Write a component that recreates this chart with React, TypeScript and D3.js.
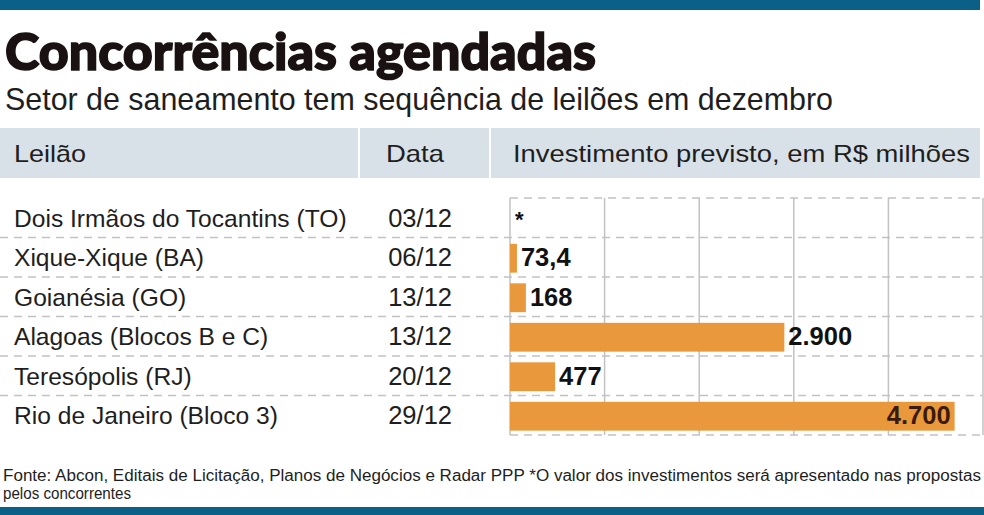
import React from "react";
import * as d3 from "d3";

// Leilões de saneamento previstos para dezembro
const leiloes = [
  "Dois Irmãos do Tocantins (TO)",
  "Xique-Xique (BA)",
  "Goianésia (GO)",
  "Alagoas (Blocos B e C)",
  "Teresópolis (RJ)",
  "Rio de Janeiro (Bloco 3)",
];
const datas = ["03/12", "06/12", "13/12", "13/12", "20/12", "29/12"];
// Investimento previsto em R$ milhões (null = valor ainda não divulgado)
const investimentos: (number | null)[] = [null, 73.4, 168, 2900, 477, 4700];
const ticksX = [0, 1000, 2000, 3000, 4000, 5000];

const titulo = "Concorrências agendadas";
const subtitulo = "Setor de saneamento tem sequência de leilões em dezembro";
const cabecalhos = ["Leilão", "Data", "Investimento previsto, em R$ milhões"];
const notaSemValor = "*";
const fonte1 =
  "Fonte: Abcon, Editais de Licitação, Planos de Negócios e Radar PPP *O valor dos investimentos será apresentado nas propostas";
const fonte2 = "pelos concorrentes";

const W = 984;
const H = 515;
const BLUE = "#0b6088";
const HEAD_BG = "#d9e1e8";
const ORANGE = "#e9993b";
const GRID = "#c2c2c2";
const TEXT = "#1e1e1e";
const FONT = "'Liberation Sans', Arial, sans-serif";

const ptBR = d3.formatLocale({
  decimal: ",",
  thousands: ".",
  grouping: [3],
  currency: ["R$", ""],
});
const fmt = ptBR.format(",");

export default function App() {
  const chartLeft = 510;
  const chartRight = 983;
  const rowsTop = 198;
  const rowsBottom = 435;

  const x = d3.scaleLinear().domain([0, 5000]).range([chartLeft, chartRight]);
  const y = d3
    .scaleBand<number>()
    .domain(leiloes.map((_, i) => i))
    .range([rowsTop, rowsBottom])
    .padding(0);
  const bw = y.bandwidth();
  const barTop = bw * 0.16;
  const barH = bw * 0.73;

  const dash = "8 6";

  return (
    <svg
      width={W}
      height={H}
      viewBox={`0 0 ${W} ${H}`}
      style={{ position: "absolute", left: 0, top: 0, display: "block", background: "#fff" }}
    >
      {/* faixa superior */}
      <rect x={0} y={0} width={980} height={10} fill={BLUE} />

      <text
        x={5}
        y={70}
        fontFamily="Lato, 'DejaVu Sans', sans-serif"
        fontWeight={900}
        fontSize={52}
        fill="#1a1212"
        stroke="#1a1212"
        strokeWidth={1.6}
        textLength={591}
        lengthAdjust="spacingAndGlyphs"
      >
        {titulo}
      </text>
      <text
        x={5}
        y={110}
        fontFamily={FONT}
        fontSize={32}
        fill={TEXT}
        textLength={828}
        lengthAdjust="spacingAndGlyphs"
      >
        {subtitulo}
      </text>

      {/* cabeçalho da tabela */}
      <rect x={0} y={128} width={980} height={50} fill={HEAD_BG} />
      <line x1={359} x2={359} y1={128} y2={178} stroke="#fff" strokeWidth={2} />
      <line x1={490} x2={490} y1={128} y2={178} stroke="#fff" strokeWidth={2} />
      <text x={14} y={162} fontFamily={FONT} fontSize={24} fill={TEXT} textLength={72} lengthAdjust="spacingAndGlyphs">
        {cabecalhos[0]}
      </text>
      <text x={386} y={162} fontFamily={FONT} fontSize={24} fill={TEXT} textLength={58} lengthAdjust="spacingAndGlyphs">
        {cabecalhos[1]}
      </text>
      <text x={513} y={162} fontFamily={FONT} fontSize={24} fill={TEXT} textLength={457} lengthAdjust="spacingAndGlyphs">
        {cabecalhos[2]}
      </text>

      {/* grade do gráfico */}
      {ticksX.map((t) => (
        <line key={`v${t}`} x1={x(t)} x2={x(t)} y1={rowsTop} y2={rowsBottom} stroke={GRID} strokeWidth={1.5} />
      ))}
      <line x1={chartLeft} x2={chartRight} y1={rowsTop} y2={rowsTop} stroke={GRID} strokeWidth={1.5} strokeDasharray={dash} />
      <line x1={chartLeft} x2={chartRight} y1={rowsBottom} y2={rowsBottom} stroke={GRID} strokeWidth={1.5} strokeDasharray={dash} />
      {leiloes.slice(1).map((_, i) => {
        const yy = y(i + 1) as number;
        return (
          <line key={`h${i}`} x1={0} x2={chartRight} y1={yy} y2={yy} stroke={GRID} strokeWidth={1.5} strokeDasharray={dash} />
        );
      })}

      {/* linhas da tabela */}
      {leiloes.map((nome, i) => {
        const top = y(i) as number;
        const base = top + bw / 2 + 9;
        const v = investimentos[i];
        const inside = v !== null && x(v) > chartRight - 80;
        return (
          <g key={nome}>
            <text x={14} y={base} fontFamily={FONT} fontSize={24.6} fill={TEXT}>
              {nome}
            </text>
            <text x={452} y={base} fontFamily={FONT} fontSize={25.5} fill={TEXT} textAnchor="end">
              {datas[i]}
            </text>
            {v === null ? (
              <text x={chartLeft + 5} y={base} fontFamily={FONT} fontWeight={700} fontSize={22} fill="#111">
                {notaSemValor}
              </text>
            ) : (
              <>
                <rect x={x(0)} y={top + barTop} width={x(v) - x(0)} height={barH} fill={ORANGE} />
                <text
                  x={inside ? x(v) - 4 : x(v) + 4}
                  y={base}
                  fontFamily={FONT}
                  fontWeight={700}
                  fontSize={25.5}
                  fill={inside ? "#3a1a0c" : "#111"}
                  textAnchor={inside ? "end" : "start"}
                >
                  {fmt(v)}
                </text>
              </>
            )}
          </g>
        );
      })}

      {/* fonte */}
      <text x={3} y={481} fontFamily={FONT} fontSize={16} fill={TEXT} textLength={978} lengthAdjust="spacingAndGlyphs">
        {fonte1}
      </text>
      <text x={3} y={499} fontFamily={FONT} fontSize={16} fill={TEXT} textLength={128} lengthAdjust="spacingAndGlyphs">
        {fonte2}
      </text>

      <rect x={0} y={507} width={984} height={8} fill={BLUE} />
    </svg>
  );
}
